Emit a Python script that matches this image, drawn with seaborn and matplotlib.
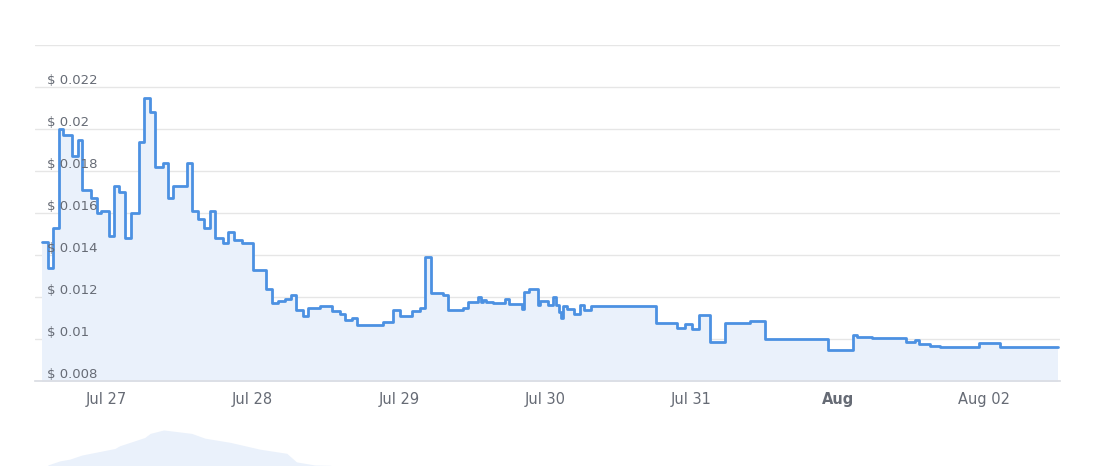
"""
Token price chart (Jul 26 - Aug 02), Highcharts-like look, with the top of
the navigator strip peeking in at the bottom.
"""

import numpy as np
import pandas as pd
import matplotlib
matplotlib.use("Agg")
import matplotlib.pyplot as plt
import matplotlib.transforms as mtransforms
import seaborn as sns

# ── Data (price change points, hours from Jul 27 00:00) ───────────────────────
BASE = pd.Timestamp("2024-07-27 00:00")

HOURS = [
    -10.55, -9.5, -8.7, -7.7, -7.05, -5.7, -4.7, -4.05, -2.55, -1.55,
    -0.9, 0.5, 1.3, 2.15, 3.05, 4.05, 5.4, 6.2, 7.15, 8.0,
    9.25, 10.15, 10.9, 13.2, 14.0, 15.1, 16.05, 17.0, 17.85, 19.2,
    20.0, 20.95, 22.2, 24.1, 26.2, 27.15, 28.2, 29.3, 30.25, 31.05,
    32.3, 33.15, 35.05, 37.0, 38.35, 39.15, 40.25, 41.1, 45.45, 47.0,
    48.2, 50.1, 51.45, 52.3, 53.2, 55.2, 56.1, 58.45, 59.4, 61.05,
    61.55, 61.8, 62.3, 63.5, 65.4, 66.1, 68.15, 68.5, 69.4, 70.85,
    71.15, 72.5, 73.3, 73.75, 74.3, 74.55, 74.85, 75.55, 76.75, 77.7,
    78.35, 79.45, 90.2, 93.55, 94.95, 96.05, 97.3, 99.05, 101.5, 105.6,
    108.05, 118.4, 122.5, 123.15, 125.55, 131.2, 132.65, 133.4, 135.15, 136.75,
    143.15, 146.6, 150.15, 156.2,
]
PRICES = [
    0.0146, 0.0134, 0.0153, 0.0200, 0.0197, 0.0187, 0.0195, 0.0171, 0.0167, 0.0160,
    0.0161, 0.0149, 0.0173, 0.0170, 0.0148, 0.0160, 0.0194, 0.0215, 0.0208, 0.0182,
    0.0184, 0.0167, 0.0173, 0.0184, 0.0161, 0.0157, 0.0153, 0.0161, 0.0148, 0.01455,
    0.0151, 0.0147, 0.01455, 0.0133, 0.0124, 0.0117, 0.0118, 0.0119, 0.0121, 0.0114,
    0.0111, 0.0115, 0.01157, 0.01135, 0.0112, 0.0109, 0.0110, 0.01065, 0.0108, 0.0114,
    0.0111, 0.01135, 0.0115, 0.0139, 0.0122, 0.0121, 0.0114, 0.01148, 0.01176, 0.0120,
    0.01174, 0.01187, 0.01174, 0.01172, 0.0119, 0.01168, 0.01143, 0.01226, 0.01238, 0.0116,
    0.01179, 0.0116, 0.0120, 0.0116, 0.0113, 0.0110, 0.01155, 0.01143, 0.01121, 0.01164,
    0.0114, 0.01157, 0.01078, 0.01054, 0.01073, 0.01046, 0.01115, 0.00988, 0.01075, 0.01086,
    0.01001, 0.0095, 0.0102, 0.01011, 0.01003, 0.00984, 0.00995, 0.00976, 0.00968, 0.00963,
    0.00982, 0.00963, 0.0096, 0.0096,
]

# navigator (grouped) series, only its top shows inside the picture
NAV_HOURS = [-9.6, -7.6, -6.0, -4.0, 1.4, 2.2, 6.3, 7.2, 9.4, 14.0,
             16.2, 20.3, 25.2, 29.6, 31.2, 34.2, 36.8, 38.0, 156.2]
NAV_VALUES = [0.0112, 0.0124, 0.0129, 0.0141, 0.0160, 0.0168, 0.0192, 0.0204, 0.0214, 0.0204,
              0.0190, 0.0178, 0.0158, 0.0146, 0.0121, 0.0112, 0.0111, 0.0080, 0.0080]

Y_TICKS = [0.008, 0.010, 0.012, 0.014, 0.016, 0.018, 0.020, 0.022, 0.024]
Y_LABELS = ["$ 0.008", "$ 0.01", "$ 0.012", "$ 0.014", "$ 0.016",
            "$ 0.018", "$ 0.02", "$ 0.022", ""]
X_TICKS = ["2024-07-27", "2024-07-28", "2024-07-29", "2024-07-30",
           "2024-07-31", "2024-08-01", "2024-08-02"]
X_LABELS = ["Jul 27", "Jul 28", "Jul 29", "Jul 30", "Jul 31", "Aug", "Aug 02"]

LINE_C = "#4c91e2"
FILL_C = "#eaf1fb"
TEXT_C = "#666b75"
GRID_C = "#e6e6e6"

df = pd.DataFrame({"time": BASE + pd.to_timedelta(HOURS, unit="h"), "price": PRICES})
nav = pd.DataFrame({"time": BASE + pd.to_timedelta(NAV_HOURS, unit="h"), "value": NAV_VALUES})

# ── Figure ────────────────────────────────────────────────────────────────────
sns.set_theme(style="white")
plt.rcParams["font.family"] = ["DejaVu Sans"]

W, H = 1098, 466
fig = plt.figure(figsize=(W / 100, H / 100), dpi=100)

px_left, px_right, px_top, px_bot = 35, 1060, 45, 381
ax = fig.add_axes([px_left / W, 1 - px_bot / H, (px_right - px_left) / W, (px_bot - px_top) / H])

x0 = BASE + pd.to_timedelta((px_left - 106.3) / 146.3 * 24, unit="h")
x1 = BASE + pd.to_timedelta((px_right - 106.3) / 146.3 * 24, unit="h")

ax.fill_between(df["time"], df["price"], 0.0, step="post", color=FILL_C, lw=0)
sns.lineplot(data=df, x="time", y="price", drawstyle="steps-post",
             color=LINE_C, lw=2, ax=ax)

ax.set_xlim(x0, x1)
ax.set_ylim(0.008, 0.024)
ax.set_yticks(Y_TICKS)
ax.yaxis.grid(True, color=GRID_C, lw=1)
ax.set_axisbelow(True)
ax.tick_params(axis="y", length=0, labelleft=False)
ax.set_xlabel(""); ax.set_ylabel("")
for s in ["top", "left", "right"]:
    ax.spines[s].set_visible(False)
ax.spines["bottom"].set_color("#dadde3")

# y labels sit inside the plot, just above their grid lines
trans = mtransforms.blended_transform_factory(ax.transAxes, ax.transData)
for val, lab in zip(Y_TICKS, Y_LABELS):
    if lab:
        ax.text(12 / (px_right - px_left), val, lab, transform=trans,
                ha="left", va="bottom", fontsize=9.5, color=TEXT_C)

ax.set_xticks(pd.to_datetime(X_TICKS))
ax.set_xticklabels(X_LABELS, fontsize=10.5, color=TEXT_C)
ax.tick_params(axis="x", length=0, pad=8)
for t in ax.get_xticklabels():
    if t.get_text() == "Aug":
        t.set_fontweight("bold")

# navigator strip, mostly below the picture's bottom edge
nav_ax = fig.add_axes([px_left / W, 1 - 500 / H, (px_right - px_left) / W, 80 / H])
nav_ax.fill_between(nav["time"], nav["value"], 0.0, color=FILL_C, lw=0)
nav_ax.set_xlim(x0, x1)
nav_ax.set_ylim(0.001, 0.0243)
nav_ax.axis("off")

fig.savefig("out.png", dpi=100)
